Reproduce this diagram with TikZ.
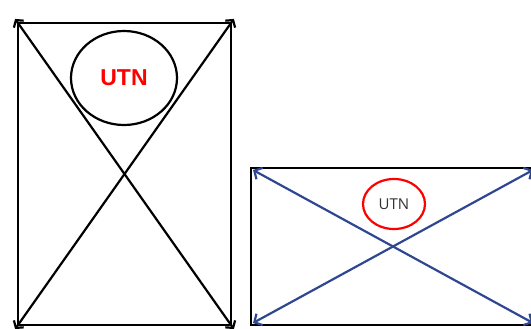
\documentclass[tikz,border=0pt]{standalone}
\usepackage{fontspec}
\setmainfont{Liberation Sans}
\newfontfamily\opensans{Open Sans}
\usetikzlibrary{arrows.meta,shapes.geometric}
\definecolor{diagblue}{HTML}{2F4690}
\definecolor{utnred}{HTML}{FF0000}
\definecolor{utngray}{HTML}{333333}
\tikzset{
  frame/.style={draw=black,line width=2.2pt},
  bigdiag/.style={draw=black,line width=2.2pt,{Straight Barb[length=5pt,width=12pt]}-{Straight Barb[length=5pt,width=12pt]}},
  bluediag/.style={draw=diagblue,line width=2.2pt,{Straight Barb[length=6pt,width=13pt]}-{Straight Barb[length=6pt,width=13pt]}},
  bigoval/.style={ellipse,draw=black,line width=2.2pt,minimum width=106pt,minimum height=94pt,inner sep=0pt,text=utnred,font=\fontsize{23}{23}\selectfont\bfseries},
  smalloval/.style={ellipse,draw=utnred,line width=2.2pt,minimum width=62pt,minimum height=50pt,inner sep=0pt,text=utngray,font=\opensans\fontsize{15}{15}\selectfont},
}
\begin{document}
\begin{tikzpicture}[x=1pt,y=-1pt]
\useasboundingbox (0,0) rectangle (531,329);
\clip (0,0) rectangle (531,329);
% left frame
\coordinate (ltl) at (18,23);
\coordinate (lbr) at (231,325);
\coordinate (dtl) at (15.1,18.9);
\coordinate (dtr) at (233.9,18.9);
\coordinate (dbl) at (15.1,329.1);
\coordinate (dbr) at (233.9,329.1);
\draw[frame] (ltl) rectangle (lbr);
\draw[bigdiag] (dtl) -- (dbr);
\draw[bigdiag] (dtr) -- (dbl);
\node[bigoval] (bigutn) at (124,78) {UTN};
% right frame
\coordinate (rtl) at (251,168);
\coordinate (rbr) at (535,325);
\coordinate (rdtl) at (253,170);
\coordinate (rdbl) at (253,323);
\coordinate (rdtr) at (533,170);
\coordinate (rdbr) at (533,323);
\draw[frame] (rtl) rectangle (rbr);
\draw[bluediag] (rdtl) -- (rdbr);
\draw[bluediag] (rdbl) -- (rdtr);
\node[smalloval] (smallutn) at (394,204) {UTN};
\end{tikzpicture}
\end{document}
